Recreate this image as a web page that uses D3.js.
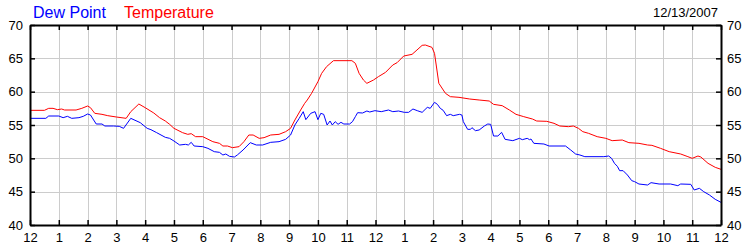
<!DOCTYPE html>
<html>
<head>
<meta charset="utf-8">
<script src="https://cdn.jsdelivr.net/npm/d3@7"></script>
<style>
  body { margin: 0; background: #fff; }
  svg text { font-family: "Liberation Sans", Arial, sans-serif; }
</style>
</head>
<body>
<script>
// hours since midnight, value in degrees F
var temperature = [
  [0,57.2],[0.5,57.2],[0.65,57.5],[0.8,57.5],[0.95,57.3],[1.1,57.4],[1.2,57.25],[1.6,57.25],
  [1.8,57.5],[2.0,57.85],[2.1,57.6],[2.25,56.75],[2.5,56.6],[2.7,56.4],[3.0,56.2],[3.34,56.0],
  [3.5,57.0],[3.78,58.15],[4.0,57.6],[4.3,56.8],[4.5,56.1],[4.7,55.6],[4.85,55.1],[5.0,54.5],
  [5.3,53.85],[5.48,53.6],[5.6,53.7],[5.75,53.25],[6.0,53.25],[6.35,52.5],[6.58,52.25],[6.7,51.85],
  [6.86,51.85],[7.03,51.6],[7.26,51.75],[7.43,52.5],[7.6,53.5],[7.75,53.5],[7.96,53.0],[8.13,53.1],
  [8.36,53.5],[8.65,53.6],[8.88,54.0],[9.05,54.5],[9.2,55.75],[9.4,57.25],[9.54,58.25],[9.63,58.75],
  [9.78,59.75],[10.0,61.5],[10.13,62.75],[10.3,63.75],[10.54,64.65],[11.18,64.65],[11.3,64.25],
  [11.43,62.75],[11.58,61.75],[11.7,61.25],[11.93,61.75],[12.1,62.25],[12.35,62.9],[12.6,64.0],
  [12.75,64.35],[12.98,65.35],[13.27,65.6],[13.44,66.25],[13.62,66.95],[13.73,67.0],[13.96,66.65],
  [14.05,65.75],[14.2,61.25],[14.43,59.75],[14.6,59.25],[14.9,59.15],[15.27,58.9],[15.6,58.75],
  [15.95,58.6],[16.1,58.1],[16.4,57.9],[16.65,57.25],[16.88,56.6],[17.15,56.25],[17.45,55.9],
  [17.6,55.6],[17.95,55.55],[18.2,55.25],[18.4,54.85],[18.7,54.75],[18.87,54.85],[19.05,54.5],
  [19.2,54.0],[19.4,53.75],[19.7,53.25],[20.0,53.0],[20.22,52.65],[20.57,52.75],[20.8,52.35],
  [21.15,52.25],[21.45,52.0],[21.6,51.95],[21.9,51.5],[22.2,51.0],[22.6,50.65],[22.85,50.25],
  [23.0,50.0],[23.2,50.35],[23.3,50.2],[23.55,49.25],[23.8,48.65],[24,48.35]
];

var dewPoint = [
  [0,56.0],[0.55,56.0],[0.65,56.35],[1.0,56.35],[1.15,56.1],[1.3,56.3],[1.45,56.0],[1.7,56.1],
  [1.85,56.3],[2.0,56.65],[2.1,56.5],[2.3,55.15],[2.5,55.15],[2.6,54.85],[2.9,54.85],[3.1,54.8],
  [3.25,54.5],[3.5,56.0],[3.83,55.35],[4.07,54.5],[4.2,54.3],[4.4,53.85],[4.7,53.15],[4.85,53.0],
  [5.0,52.6],[5.2,52.0],[5.4,52.1],[5.5,52.0],[5.6,52.4],[5.7,51.85],[6.0,51.75],[6.18,51.5],
  [6.4,51.0],[6.58,50.9],[6.7,50.5],[6.8,50.65],[6.93,50.3],[7.1,50.2],[7.2,50.5],[7.4,51.25],
  [7.65,52.35],[7.86,52.0],[8.08,52.0],[8.36,52.4],[8.65,52.5],[8.88,52.85],[9.05,53.5],[9.2,55.0],
  [9.35,56.0],[9.49,57.0],[9.58,55.8],[9.75,56.75],[9.9,57.0],[10.0,55.8],[10.1,56.75],[10.2,56.6],
  [10.32,55.0],[10.42,55.6],[10.5,55.0],[10.6,55.5],[10.7,55.1],[10.8,55.4],[10.9,55.15],[11.1,55.15],
  [11.2,55.5],[11.3,56.25],[11.38,56.85],[11.55,56.8],[11.7,57.1],[11.8,56.95],[11.98,57.15],
  [12.2,57.0],[12.45,57.25],[12.6,57.0],[12.8,57.1],[13.0,56.9],[13.15,56.9],[13.3,57.4],
  [13.45,57.15],[13.62,56.9],[13.8,57.65],[13.9,57.5],[14.05,58.4],[14.15,58.1],[14.25,57.5],
  [14.35,57.2],[14.47,56.4],[14.6,56.6],[14.7,56.4],[14.92,56.6],[15.0,56.5],[15.05,55.5],
  [15.2,54.35],[15.3,54.35],[15.35,54.6],[15.47,54.15],[15.6,54.25],[15.78,54.85],[15.9,55.15],
  [16.0,55.1],[16.1,53.35],[16.25,53.35],[16.38,53.9],[16.5,52.85],[16.77,52.65],[17.0,53.0],
  [17.1,52.8],[17.27,53.0],[17.35,52.8],[17.4,52.9],[17.5,52.25],[17.85,52.15],[18.03,51.85],
  [18.6,51.85],[18.78,51.25],[18.95,50.65],[19.1,50.5],[19.27,50.25],[19.93,50.25],[20.1,50.35],
  [20.2,50.0],[20.3,49.25],[20.4,48.8],[20.48,48.15],[20.6,48.15],[20.75,47.5],[20.9,46.65],
  [21.0,46.5],[21.15,46.15],[21.45,46.0],[21.57,46.35],[21.85,46.15],[22.25,46.15],[22.5,45.9],
  [22.6,46.15],[22.95,46.1],[23.07,45.25],[23.25,45.5],[23.4,45.0],[23.6,44.5],[23.8,43.85],[24,43.4]
];

var hourTicks = d3.range(0, 25);
var valueTicks = [40, 45, 50, 55, 60, 65, 70];
var dateLabel = "12/13/2007";

var width = 750, height = 250;
var plotLeft = 30, plotRight = 721, plotTop = 25, plotBottom = 225;

var svg = d3.select("body").append("svg")
    .attr("width", width)
    .attr("height", height);

var x = d3.scaleLinear().domain([0, 24]).range([plotLeft, plotRight]);
var y = d3.scaleLinear().domain([40, 70]).range([plotBottom, plotTop]);

// grid
var grid = svg.append("g").attr("stroke", "#cccccc").attr("stroke-width", 1);
grid.selectAll(".vg")
    .data(hourTicks.slice(1, -1))
    .enter().append("line")
    .attr("x1", d => Math.round(x(d)) + 0.5)
    .attr("x2", d => Math.round(x(d)) + 0.5)
    .attr("y1", plotTop)
    .attr("y2", plotBottom);
grid.selectAll(".hg")
    .data(valueTicks.slice(1, -1))
    .enter().append("line")
    .attr("x1", plotLeft)
    .attr("x2", plotRight)
    .attr("y1", d => Math.round(y(d)) + 0.5)
    .attr("y2", d => Math.round(y(d)) + 0.5);

// lines
var line = d3.line()
    .x(d => x(d[0]))
    .y(d => y(d[1]));

svg.append("path")
    .datum(temperature)
    .attr("fill", "none")
    .attr("stroke", "#ff0000")
    .attr("stroke-width", 1)
    .attr("d", line);

svg.append("path")
    .datum(dewPoint)
    .attr("fill", "none")
    .attr("stroke", "#0000ff")
    .attr("stroke-width", 1)
    .attr("d", line);

// axes
function hourLabel(d) {
  var h = d % 12;
  return h === 0 ? "12" : String(h);
}

function styleAxis(g) {
  g.select(".domain").attr("stroke", "#000").attr("stroke-width", 2);
  g.selectAll(".tick line").attr("stroke", "#000").attr("stroke-width", 1.5);
  g.selectAll("text")
    .attr("fill", "#000")
    .style("font-size", "13px")
    .style("font-family", "'Liberation Sans', Arial, sans-serif");
}

svg.append("g")
    .attr("transform", "translate(" + plotLeft + ",0)")
    .call(d3.axisLeft(y).tickValues(valueTicks).tickSizeInner(-5).tickSizeOuter(0).tickPadding(7))
    .call(styleAxis);

svg.append("g")
    .attr("transform", "translate(" + plotRight + ",0)")
    .call(d3.axisRight(y).tickValues(valueTicks).tickSizeInner(-5).tickSizeOuter(0).tickPadding(6))
    .call(styleAxis);

svg.append("g")
    .attr("transform", "translate(0," + plotBottom + ")")
    .call(d3.axisBottom(x).tickValues(hourTicks).tickFormat(hourLabel).tickSizeInner(-5).tickSizeOuter(0).tickPadding(8))
    .call(styleAxis);

svg.append("g")
    .attr("transform", "translate(0," + plotTop + ")")
    .call(d3.axisTop(x).tickValues(hourTicks).tickFormat("").tickSizeInner(-5).tickSizeOuter(0))
    .call(styleAxis);

// legend
svg.append("text")
    .attr("x", 33).attr("y", 18)
    .attr("fill", "#0000ff")
    .style("font-size", "16px")
    .text("Dew Point");

svg.append("text")
    .attr("x", 124).attr("y", 18)
    .attr("fill", "#ff0000")
    .style("font-size", "16px")
    .text("Temperature");

svg.append("text")
    .attr("x", 718).attr("y", 17)
    .attr("text-anchor", "end")
    .attr("fill", "#000")
    .style("font-size", "13px")
    .text(dateLabel);
</script>
</body>
</html>
